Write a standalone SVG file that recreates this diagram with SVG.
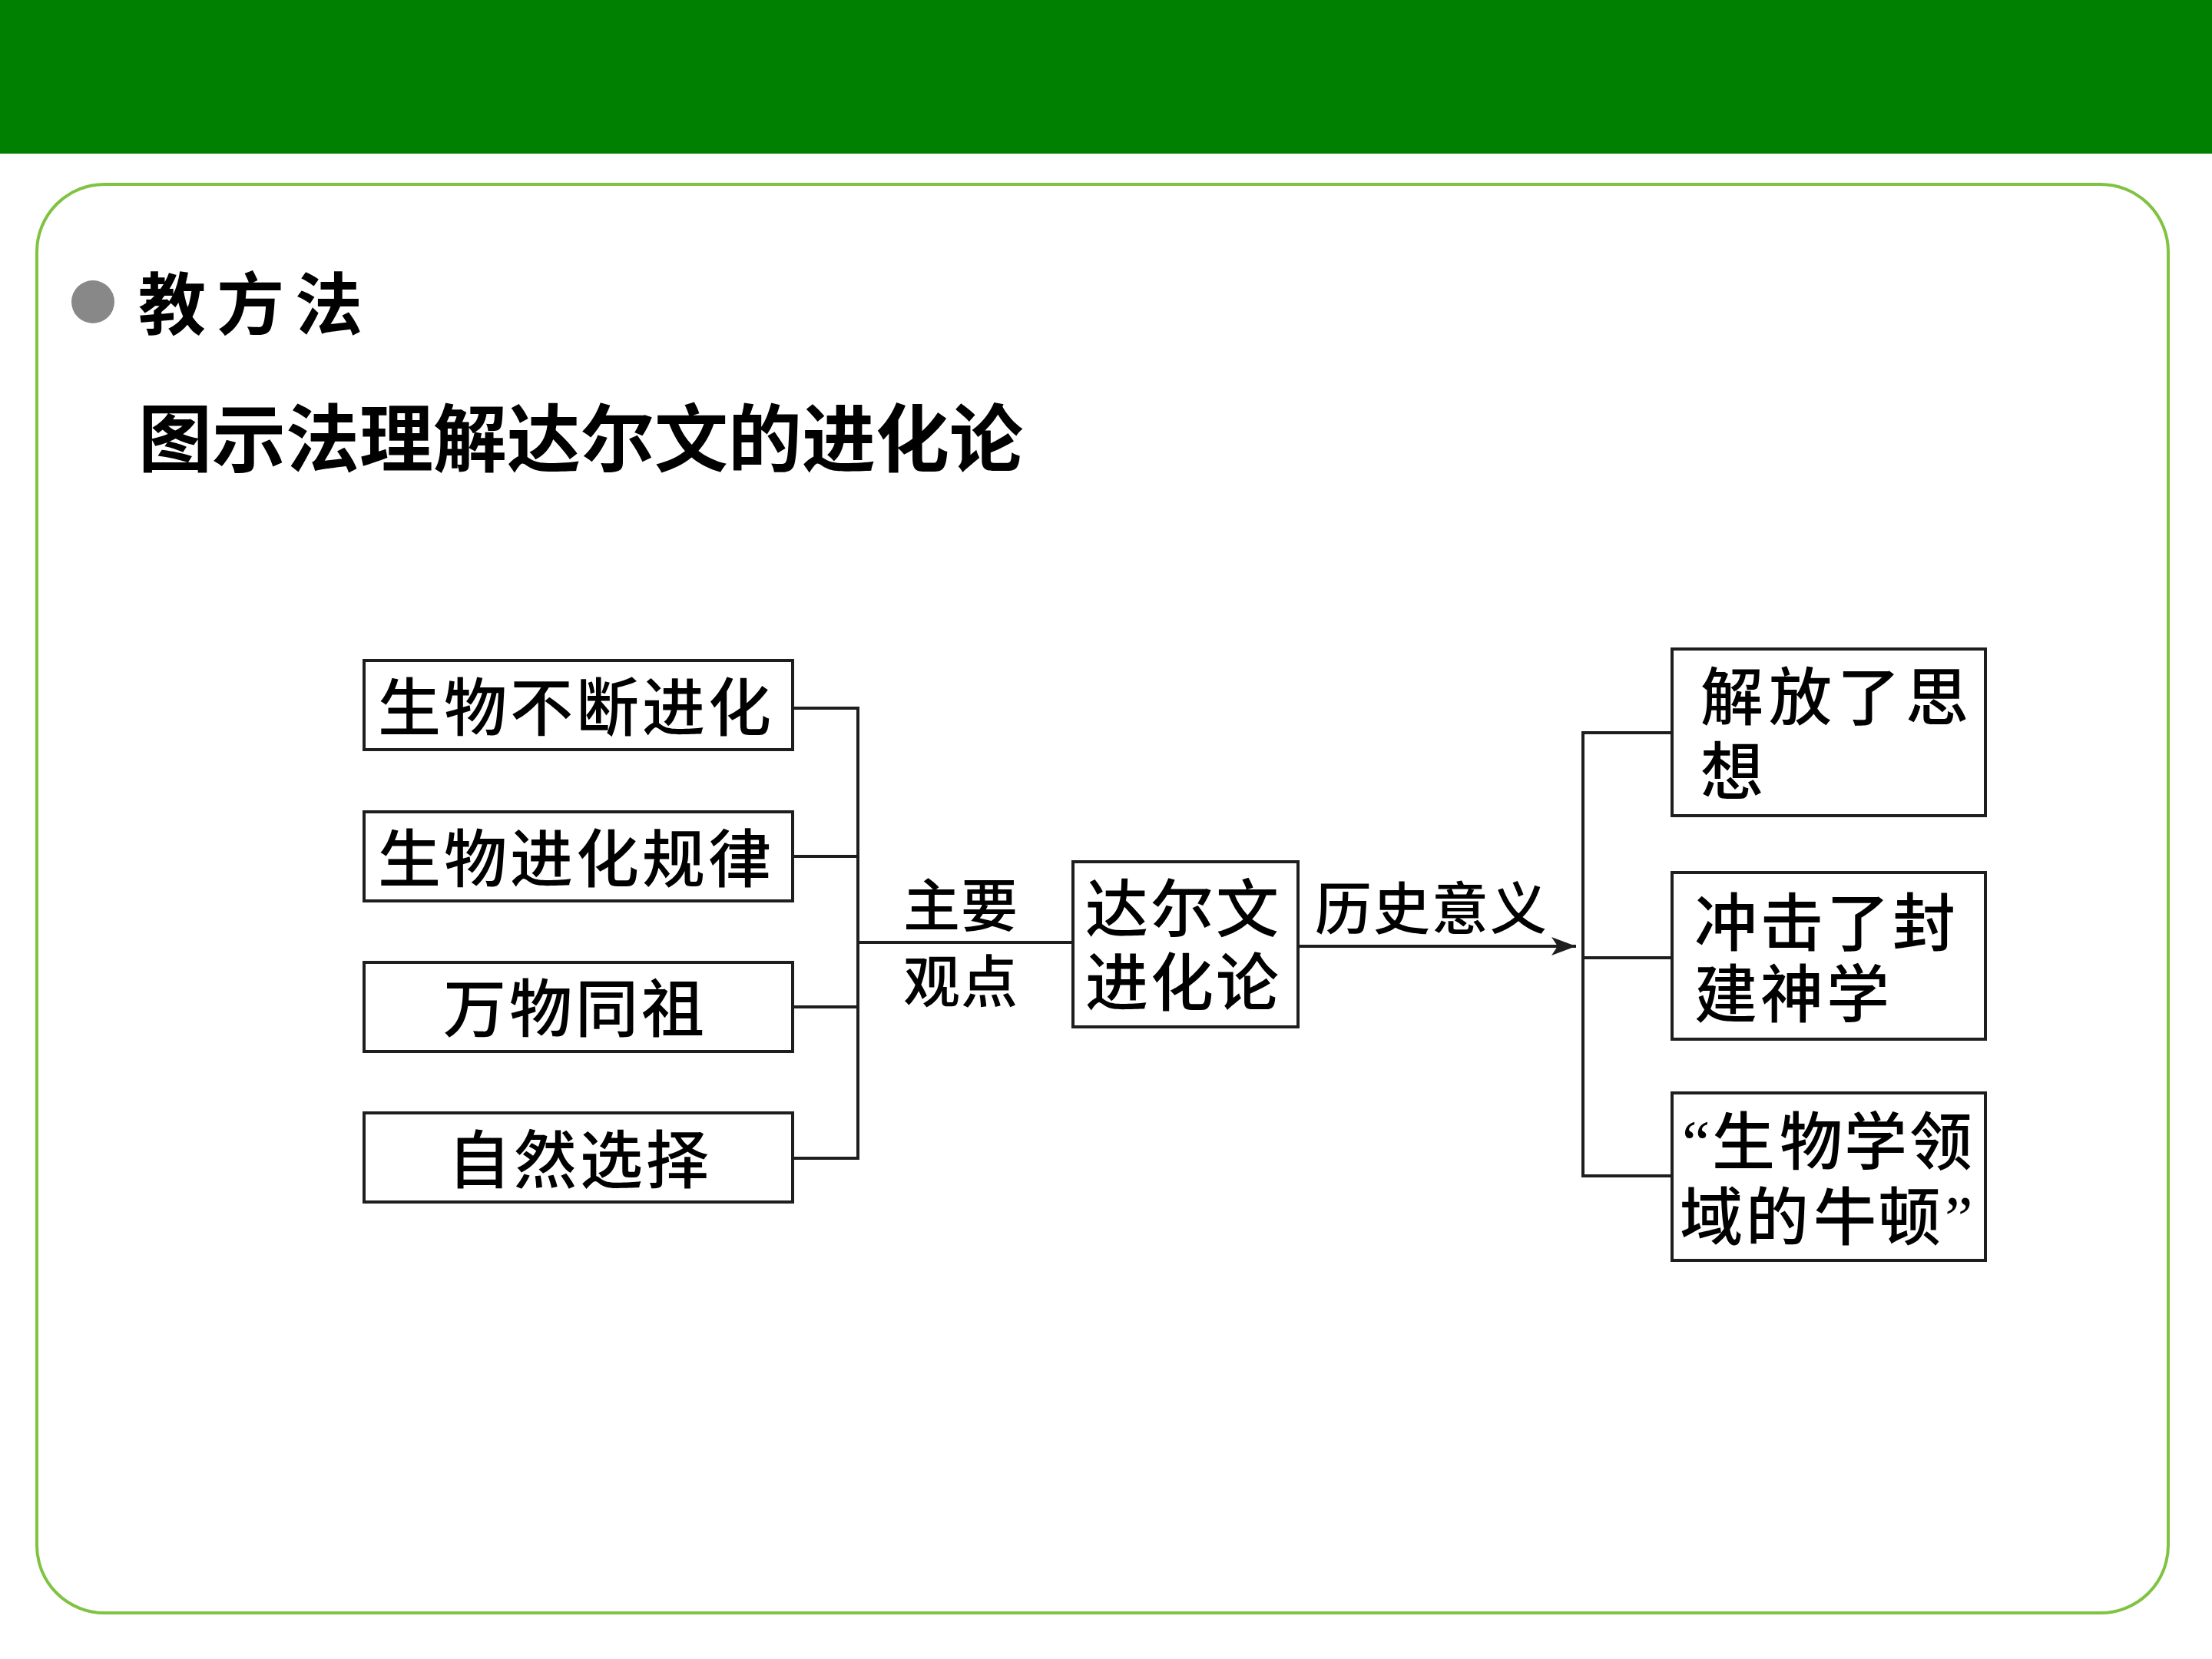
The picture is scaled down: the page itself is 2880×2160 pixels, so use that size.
<svg xmlns="http://www.w3.org/2000/svg" width="2880" height="2160" viewBox="0 0 2880 2160">
<defs>
<style>
.box{fill:#fff;stroke:#1e1e1e;stroke-width:4}
.ln{fill:none;stroke:#1e1e1e;stroke-width:4}
.t{font-family:"Liberation Serif","Noto Sans CJK SC",serif;font-size:82px;font-weight:500;fill:#000}
.lbl{font-family:"Noto Sans CJK SC",sans-serif;font-size:74px;font-weight:500;fill:#000}
.hd{font-family:"Noto Sans CJK SC",sans-serif;font-weight:700;fill:#000}
</style>
<marker id="arr" viewBox="0 0 32 24" refX="32" refY="12" markerWidth="32" markerHeight="24" markerUnits="userSpaceOnUse" orient="auto">
<path d="M0,0 L32,12 L0,24 L8,12 Z" fill="#1e1e1e"/>
</marker>
</defs>
<rect x="0" y="0" width="2880" height="2160" fill="#fff"/>
<rect x="0" y="0" width="2880" height="200" fill="#008000"/>
<rect x="48" y="240" width="2775" height="1860" rx="88" ry="88" fill="none" stroke="#80c342" stroke-width="4"/>
<g id="heading">
<circle cx="121" cy="393" r="28" fill="#888"/>
<text class="hd" x="180" y="428" font-size="88" letter-spacing="14">教方法</text>
<text class="hd" x="180" y="606" font-size="96">图示法理解达尔文的进化论</text>
</g>
<g id="connectors">
<path class="ln" d="M1032,922 H1117 M1032,1115 H1117 M1032,1311 H1117 M1032,1508 H1117 M1117,920 V1510 M1117,1227 H1397"/>
<line class="ln" x1="1690" y1="1232" x2="2052" y2="1232" marker-end="url(#arr)"/>
<path class="ln" d="M2061,952 V1533 M2061,954 H2177 M2061,1247 H2177 M2061,1531 H2177"/>
</g>
<g id="n1"><rect class="box" x="474" y="860" width="558" height="116"/><text class="t" x="492" y="951" letter-spacing="4">生物不断进化</text></g>
<g id="n2"><rect class="box" x="474" y="1057" width="558" height="116"/><text class="t" x="492" y="1148" letter-spacing="4">生物进化规律</text></g>
<g id="n3"><rect class="box" x="474" y="1253" width="558" height="116"/><text class="t" x="577" y="1343" letter-spacing="4">万物同祖</text></g>
<g id="n4"><rect class="box" x="474" y="1449" width="558" height="116"/><text class="t" x="583" y="1540" letter-spacing="4">自然选择</text></g>
<g id="lbl-main">
<text class="lbl" x="1176" y="1206" letter-spacing="1">主要</text>
<text class="lbl" x="1176" y="1305" letter-spacing="1">观点</text>
</g>
<g id="center"><rect class="box" x="1397" y="1122" width="293" height="215"/>
<text class="t" x="1413" y="1213" letter-spacing="3">达尔文</text>
<text class="t" x="1413" y="1309" letter-spacing="3">进化论</text></g>
<g id="lbl-hist"><text class="lbl" x="1712" y="1210" letter-spacing="2">历史意义</text></g>
<g id="r1"><rect class="box" x="2177" y="845" width="408" height="217"/>
<text class="t" x="2214" y="937" letter-spacing="7">解放了思</text>
<text class="t" x="2214" y="1034">想</text></g>
<g id="r2"><rect class="box" x="2177" y="1136" width="408" height="217"/>
<text class="t" x="2206" y="1231" letter-spacing="4">冲击了封</text>
<text class="t" x="2206" y="1324" letter-spacing="4">建神学</text></g>
<g id="r3"><rect class="box" x="2177" y="1423" width="408" height="218"/>
<text class="t" x="2190 2229 2317 2401 2486" y="1516">“生物学领</text>
<text class="t" x="2187 2273 2361 2445 2532" y="1614">域的牛顿”</text></g>
</svg>
